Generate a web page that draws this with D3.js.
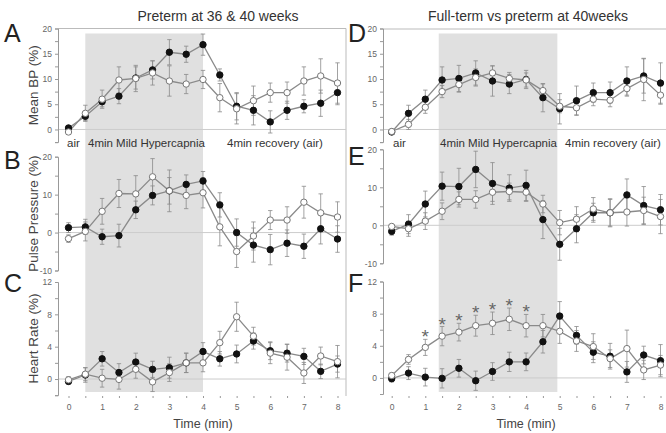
<!DOCTYPE html>
<html>
<head>
<meta charset="utf-8">
<script src="https://cdn.jsdelivr.net/npm/d3@7"></script>
<style>
  body { margin: 0; background: #fff; }
  text { font-family: Arial, "Liberation Sans", sans-serif; }
</style>
</head>
<body>
<script>
// time points (min)
var times = [0, 0.5, 1, 1.5, 2, 2.5, 3, 3.5, 4, 4.5, 5, 5.5, 6, 6.5, 7, 7.5, 8];
var timeLabels = [0, 1, 2, 3, 4, 5, 6, 7, 8];

// Mean BP (%)
var bpPre36 = [0.3, 2.6, 5.5, 6.6, 10.2, 11.8, 15.3, 14.9, 16.8, 10.8, 4.6, 3.8, 1.5, 3.8, 4.6, 5.2, 7.3];
var bpPre36Err = [0.5, 0.8, 1.0, 1.5, 2.2, 1.8, 2.5, 1.6, 2.1, 1.2, 2.7, 2.9, 2.2, 1.8, 1.3, 2.6, 2.4];
var bpPre40 = [-0.5, 3.2, 6.0, 9.8, 10.1, 11.2, 9.6, 9.0, 9.9, 6.3, 4.1, 5.7, 7.3, 7.3, 9.6, 10.6, 9.2];
var bpPre40Err = [0.5, 1.6, 1.8, 2.6, 2.6, 2.4, 3.0, 1.9, 1.8, 2.8, 3.0, 2.9, 1.9, 2.1, 2.8, 3.4, 4.0];
var bpTerm = [-0.4, 1.0, 4.4, 7.5, 8.9, 10.3, 11.2, 10.1, 9.8, 7.7, 4.6, 4.3, 6.0, 5.8, 8.1, 9.9, 6.8];
var bpTermErr = [0.4, 1.0, 1.2, 1.2, 1.5, 1.7, 1.4, 1.2, 1.4, 1.3, 1.3, 1.4, 1.3, 1.3, 1.5, 4.2, 1.8];

// Pulse pressure (%)
var ppPre36 = [1.3, 1.5, -1.1, -0.8, 6.0, 9.8, 11.0, 12.7, 13.6, 7.3, 0, -3.3, -4.5, -2.8, -3.6, 1.0, -1.7];
var ppPre36Err = [1.3, 2.0, 2.0, 3.0, 2.3, 2.5, 3.5, 2.5, 2.5, 3.2, 3.6, 4.5, 4.0, 3.5, 3.2, 4.0, 3.5];
var ppPre40 = [-1.6, 0.3, 5.6, 10.3, 10.2, 14.7, 11.0, 9.8, 10.5, 1.5, -5.0, -0.9, 3.3, 3.3, 8.0, 5.2, 4.1];
var ppPre40Err = [1.0, 2.5, 3.4, 3.7, 4.8, 4.8, 5.5, 3.5, 4.0, 5.0, 4.2, 3.7, 2.5, 3.5, 4.2, 5.0, 4.0];
var ppTerm = [-0.3, -0.9, 1.1, 3.7, 6.8, 6.8, 8.7, 8.9, 8.7, 5.6, 0.7, 1.6, 4.3, 3.3, 3.5, 3.9, 2.3];
var ppTermErr = [0.5, 2.0, 2.2, 2.2, 2.0, 2.3, 2.4, 2.2, 2.4, 2.3, 3.2, 3.3, 3.0, 3.7, 3.7, 3.5, 4.5];

// Heart rate (%)
var hrPre36 = [-0.3, 0.5, 2.5, 0.8, 2.1, 1.2, 1.4, 2.0, 3.4, 2.5, 3.1, 4.7, 3.5, 3.2, 2.8, 0.95, 1.85];
var hrPre36Err = [0.3, 0.9, 0.9, 1.1, 1.1, 1.0, 1.3, 1.2, 1.1, 0.9, 1.1, 1.0, 1.1, 1.1, 1.0, 0.9, 1.0];
var hrPre40 = [-0.1, 0.6, 0.1, -0.05, 1.2, -0.35, 0.8, 2.0, 2.0, 4.5, 7.7, 5.3, 3.2, 2.7, 0.75, 2.85, 2.15];
var hrPre40Err = [0.4, 0.8, 1.1, 1.2, 1.1, 1.2, 1.1, 1.2, 1.1, 1.4, 1.8, 1.1, 1.3, 1.6, 1.3, 1.1, 2.0];
var hrTerm = [0.3, 2.3, 3.8, 5.2, 5.7, 6.5, 6.8, 7.3, 6.5, 6.5, 5.8, 4.6, 3.9, 2.4, 3.65, 1.0, 1.6];
var hrTermErr = [0.3, 0.6, 1.0, 1.2, 1.1, 1.3, 1.4, 1.4, 1.4, 1.4, 1.5, 1.3, 1.6, 1.1, 2.3, 1.2, 1.2];

// significant time points (panel F)
var sigTimes = [1, 1.5, 2, 2.5, 3, 3.5, 4];

// hypercapnia period (min)
var hyperLeft = [0.5, 4];
var hyperRight = [1.4, 4.93];

var titles = ["Preterm at 36 & 40 weeks", "Full-term vs preterm at 40weeks"];
var yTitles = ["Mean BP (%)", "Pulse Pressure (%)", "Heart Rate (%)"];
var phaseLabels = ["air", "4min Mild Hypercapnia", "4min recovery (air)"];

var width = 666, height = 433;
var svg = d3.select("body").append("svg").attr("width", width).attr("height", height);

var sides = [
  { x: d3.scaleLinear().domain([0, 8]).range([68.5, 337.5]), axisX: 58, right: 346, hyper: hyperLeft },
  { x: d3.scaleLinear().domain([0, 8]).range([391.7, 660.5]), axisX: 383, right: 666, hyper: hyperRight }
];

var panels = [
  { side: 0, letter: "A", yd: [-2.5, 20], yr: [142.1, 28.5], labels: [0, 5, 10, 15, 20], step: 2.5, filled: [bpPre36, bpPre36Err], open: [bpPre40, bpPre40Err] },
  { side: 0, letter: "B", yd: [-10, 20], yr: [270.5, 156.7], labels: [-10, 0, 10, 20], step: 5, filled: [ppPre36, ppPre36Err], open: [ppPre40, ppPre40Err] },
  { side: 0, letter: "C", yd: [-2, 12], yr: [395.2, 282], labels: [0, 4, 8, 12], step: 2, filled: [hrPre36, hrPre36Err], open: [hrPre40, hrPre40Err] },
  { side: 1, letter: "D", yd: [-2.5, 20], yr: [142.1, 28.5], labels: [0, 5, 10, 15, 20], step: 2.5, filled: [bpPre40, bpPre40Err], open: [bpTerm, bpTermErr] },
  { side: 1, letter: "E", yd: [-10, 20], yr: [263.3, 149.3], labels: [-10, 0, 10, 20], step: 5, filled: [ppPre40, ppPre40Err], open: [ppTerm, ppTermErr] },
  { side: 1, letter: "F", yd: [-2, 12], yr: [394, 281.5], labels: [0, 4, 8, 12], step: 2, filled: [hrPre40, hrPre40Err], open: [hrTerm, hrTermErr] }
];

// shaded hypercapnia blocks
sides.forEach(function (s) {
  svg.append("rect")
    .attr("x", s.x(s.hyper[0]))
    .attr("y", 33.5)
    .attr("width", s.x(s.hyper[1]) - s.x(s.hyper[0]))
    .attr("height", 392 - 33.5)
    .attr("fill", "#e0e0e0");
});

// frame lines
svg.append("line").attr("x1", 58).attr("x2", 346).attr("y1", 28.5).attr("y2", 28.5).attr("stroke", "#bbb");
svg.append("line").attr("x1", 346).attr("x2", 346).attr("y1", 28.5).attr("y2", 396).attr("stroke", "#bbb");
svg.append("line").attr("x1", 383).attr("x2", 666).attr("y1", 29).attr("y2", 29).attr("stroke", "#bbb");

// titles
titles.forEach(function (t, i) {
  svg.append("text")
    .attr("x", i == 0 ? 218 : 528).attr("y", 21)
    .attr("text-anchor", "middle")
    .attr("font-size", 14).attr("fill", "#333")
    .text(t);
});

// phase labels
var phaseX = [[67, 88, 227], [393, 440, 565]];
phaseX.forEach(function (xs) {
  xs.forEach(function (px, j) {
    svg.append("text").attr("x", px).attr("y", 147)
      .attr("font-size", 11.5).attr("fill", "#333")
      .text(phaseLabels[j]);
  });
});

var line = d3.line();

panels.forEach(function (p, pi) {
  var s = sides[p.side];
  var x = s.x;
  var y = d3.scaleLinear().domain(p.yd).range(p.yr);
  var g = svg.append("g");

  // zero line
  g.append("line").attr("x1", s.axisX).attr("x2", s.right)
    .attr("y1", y(0)).attr("y2", y(0))
    .attr("stroke", "#ccc").attr("stroke-width", 1);

  // y axis
  var axis = d3.axisLeft(y).tickValues(d3.range(p.yd[0], p.yd[1] + 0.01, p.step))
    .tickSize(3).tickFormat(function (d) { return p.labels.indexOf(d) >= 0 ? d : ""; });
  var ag = g.append("g").attr("transform", "translate(" + s.axisX + ",0)").call(axis);
  ag.select(".domain").attr("stroke", "#999");
  ag.selectAll(".tick line").attr("stroke", "#999");
  ag.selectAll(".tick text").attr("font-size", 8.5).attr("fill", "#666").attr("x", -6);

  // panel letter
  var lx = p.side == 0 ? 4 : 348;
  var ly = [42, 169, 292][pi % 3] - (p.side == 1 && pi % 3 == 1 ? 4 : 0);
  g.append("text").attr("x", lx).attr("y", ly)
    .attr("font-size", 25).attr("fill", "#222").text(p.letter);

  // y title
  if (p.side == 0) {
    var cy = (p.yr[0] + p.yr[1]) / 2;
    g.append("text")
      .attr("transform", "translate(38," + cy + ") rotate(-90)")
      .attr("text-anchor", "middle")
      .attr("font-size", 13.5).attr("fill", "#444")
      .text(yTitles[pi % 3]);
  }

  [p.filled, p.open].forEach(function (ser, si) {
    var vals = ser[0], errs = ser[1];
    // error bars
    var eb = g.append("g").attr("stroke", "#8a8a8a").attr("stroke-width", 0.8);
    times.forEach(function (t, i) {
      var cx = x(t), y1 = y(vals[i] + errs[i]), y2 = y(vals[i] - errs[i]);
      eb.append("line").attr("x1", cx).attr("x2", cx).attr("y1", y1).attr("y2", y2);
      eb.append("line").attr("x1", cx - 2.2).attr("x2", cx + 2.2).attr("y1", y1).attr("y2", y1);
      eb.append("line").attr("x1", cx - 2.2).attr("x2", cx + 2.2).attr("y1", y2).attr("y2", y2);
    });
  });

  [p.filled, p.open].forEach(function (ser, si) {
    var vals = ser[0];
    var pts = times.map(function (t, i) { return [x(t), y(vals[i])]; });
    g.append("path").attr("d", line(pts))
      .attr("fill", "none").attr("stroke", "#8a8a8a").attr("stroke-width", 1.3);
  });

  [p.filled, p.open].forEach(function (ser, si) {
    var vals = ser[0];
    g.selectAll(null).data(times).enter().append("circle")
      .attr("cx", function (t) { return x(t); })
      .attr("cy", function (t, i) { return y(vals[i]); })
      .attr("r", 3.2)
      .attr("fill", si == 0 ? "#111" : "#fff")
      .attr("stroke", si == 0 ? "#111" : "#777")
      .attr("stroke-width", 1);
  });

  // asterisks in F
  if (p.letter == "F") {
    sigTimes.forEach(function (t) {
      var i = times.indexOf(t);
      g.append("text").attr("x", x(t)).attr("y", y(hrTerm[i] + hrTermErr[i]) + 4)
        .attr("text-anchor", "middle").attr("font-size", 19).attr("fill", "#666")
        .text("*");
    });
  }

  // x axis on bottom row
  if (pi % 3 == 2) {
    var xa = d3.axisBottom(x).tickValues(times).tickSize(2)
      .tickFormat(function (d) { return timeLabels.indexOf(d) >= 0 ? d : ""; });
    var xg = g.append("g").attr("transform", "translate(0,396)").call(xa);
    xg.select(".domain").remove();
    xg.selectAll(".tick line").attr("stroke", "#999");
    xg.selectAll(".tick text").attr("font-size", 8.5).attr("fill", "#666").attr("y", 8);
    g.append("text").attr("x", (x.range()[0] + x.range()[1]) / 2).attr("y", 428)
      .attr("text-anchor", "middle").attr("font-size", 12.5).attr("fill", "#444")
      .text("Time (min)");
  }
});
</script>
</body>
</html>
